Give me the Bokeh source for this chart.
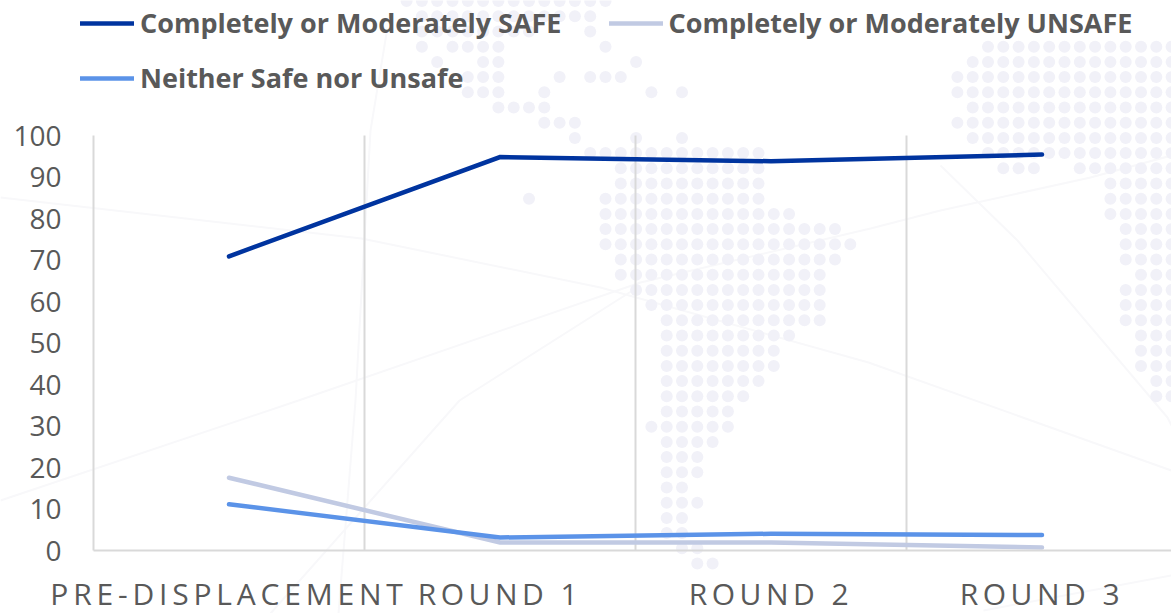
from bokeh.plotting import figure, curdoc
from bokeh.embed import file_html
from bokeh.resources import INLINE
from bokeh.models import (FixedTicker, Legend, LegendItem, Range1d, CustomJS)
from bokeh.events import DocumentReady

categories = ["PRE-DISPLACEMENT", "ROUND 1", "ROUND 2", "ROUND 3"]
safe = [70.9, 94.8, 93.8, 95.4]
unsafe = [17.6, 2.0, 2.0, 0.8]
neither = [11.2, 3.2, 4.1, 3.8]
y_ticks = list(range(0, 101, 10))
dividers = [1, 2, 3]

# faint backdrop: dotted world map, (row, first column, last column)
map_rows = [
    (-12,-13,0),(-11,-12,-1),(-10,-12,-5),(-10,-1,-1),(-9,-12,-12),(-9,-10,-7),(-9,0,0),
    (-8,-11,-11),(-8,-8,-7),(-8,2,2),(-7,-9,-7),(-7,-3,-3),(-7,-1,1),(-6,-9,-7),(-6,-4,-4),
    (-6,3,3),(-6,5,5),(-5,-7,-4),(-4,-4,-2),(-3,-2,-2),(-3,2,2),(-3,5,5),(-2,-1,10),(-1,1,10),
    (0,1,10),(1,0,10),(1,-5,-5),(2,0,12),(3,0,15),(4,0,16),(5,1,15),(6,1,14),(7,2,14),(8,3,14),
    (9,4,14),(10,4,12),(11,4,11),(12,4,11),(13,4,10),(14,4,9),(15,4,8),(16,3,8),(17,4,7),
    (18,4,6),(19,4,6),(20,4,5),(21,4,6),(22,4,5),(23,4,5),(24,5,6),(25,6,7),
    (-9,25,37),(-8,24,37),(-7,23,37),(-6,23,37),(-5,24,37),(-4,23,37),(-3,24,37),(-2,25,37),
    (-1,26,28),(-1,31,37),(0,33,37),(1,33,37),(2,33,37),(3,34,37),(4,34,37),(5,34,37),(6,35,37),
    (7,34,37),(8,34,37),(9,34,37),(10,35,37),(11,35,37),(12,35,37),(13,36,37),(14,36,37),
]
map_lines = [
    [(0,197),(361,238),(600,287),(868,362),(1171,470)],
    [(0,500),(298,400),(640,282),(870,228),(940,210),(1090,177),(1171,155)],
    [(270,613),(459,400),(640,285)],
    [(338,613),(355,400),(370,130),(386,33)],
    [(940,165),(1017,240),(1167,417),(1171,425)],
    [(983,610),(1171,575)],
]

TEXT = "#595959"
GRID = "#D9D9D9"
FONT = "Open Sans"

W, H, X0, Y0, CAT_W, UNIT_H = 1171, 613, 93, 550.3, 271, 4.153

p = figure(width=W, height=H, output_backend="svg", toolbar_location=None,
           x_range=Range1d(-X0 / CAT_W, (W - X0) / CAT_W),
           y_range=Range1d((Y0 - H) / UNIT_H, Y0 / UNIT_H),
           min_border=0, outline_line_color=None,
           background_fill_alpha=0, border_fill_alpha=0)
p.extra_x_ranges = {"px": Range1d(0, W)}
p.extra_y_ranges = {"px": Range1d(H, 0)}

mx = [605 + 15.3 * c for r, a, b in map_rows for c in range(a, b + 1)]
my = [183 + 15.2 * r for r, a, b in map_rows for c in range(a, b + 1)]
for line in map_lines:
    p.line([q[0] for q in line], [q[1] for q in line], x_range_name="px", y_range_name="px",
           line_color="#F8F8FA", line_width=2, level="image")
p.scatter(mx, my, size=12, marker="circle", x_range_name="px", y_range_name="px",
          fill_color="#F1F1F8", line_color=None, level="image")

p.segment(dividers, [0] * len(dividers), dividers, [100] * len(dividers),
          line_color=GRID, line_width=2, level="underlay")

x = [0.5, 1.5, 2.5, 3.5]
r_safe = p.line(x, safe, line_color="#00349F", line_width=4.5, line_cap="round", line_join="miter")
r_unsafe = p.line(x, unsafe, line_color="#C1CAE3", line_width=4.5, line_cap="round", line_join="miter")
r_neither = p.line(x, neither, line_color="#5B93E8", line_width=4.5, line_cap="round", line_join="miter")

xa = p.xaxis[0]
xa.fixed_location = 0
xa.bounds = (0, (W - X0) / CAT_W)
xa.ticker = FixedTicker(ticks=x)
xa.major_label_overrides = dict(zip(x, categories))
xa.major_label_text_font = FONT
xa.major_label_text_font_size = "30px"
xa.major_label_text_color = TEXT
xa.major_label_standoff = 16
xa.major_tick_line_color = None
xa.minor_tick_line_color = None
xa.axis_line_color = GRID
xa.axis_line_width = 2

ya = p.yaxis[0]
ya.fixed_location = 0
ya.bounds = (0, 100)
ya.ticker = FixedTicker(ticks=y_ticks)
ya.major_label_text_font = FONT
ya.major_label_text_font_size = "28px"
ya.major_label_text_color = TEXT
ya.major_label_standoff = 26
ya.major_tick_line_color = None
ya.minor_tick_line_color = None
ya.axis_line_color = GRID
ya.axis_line_width = 2

p.xgrid.grid_line_color = None
p.ygrid.grid_line_color = None


def make_legend(items, loc):
    lg = Legend(items=items, location=loc, orientation="horizontal", spacing=47, padding=0, margin=0,
                glyph_width=54, glyph_height=30, label_standoff=6, label_height=30,
                label_text_font=FONT, label_text_font_style="bold", label_text_font_size="27px",
                label_text_color=TEXT, background_fill_alpha=0, border_line_color=None)
    p.add_layout(lg, "center")


make_legend([LegendItem(label="Completely or Moderately SAFE", renderers=[r_safe]),
             LegendItem(label="Completely or Moderately UNSAFE", renderers=[r_unsafe])], (80, 572))
make_legend([LegendItem(label="Neither Safe nor Unsafe", renderers=[r_neither])], (80, 517))

doc = curdoc()
doc.add_root(p)
doc.js_on_event(DocumentReady, CustomJS(args=dict(labels=categories), code="""
function fix(c){
  if(c.__done) return; c.__done=true;
  const before=c.getComputedTextLength();
  c.style.letterSpacing=(c.textContent==='PRE-DISPLACEMENT'?4.8:4.5)+'px';
  const after=c.getComputedTextLength();
  c.setAttribute('x',parseFloat(c.getAttribute('x'))-(after-before)/2);
}
function walk(n){
  if(n.shadowRoot) walk(n.shadowRoot);
  for(const c of n.children||[]){
    if(c.tagName==='text' && labels.includes(c.textContent)) fix(c);
    walk(c);
  }
}
const go=()=>walk(document.body);
go(); setTimeout(go,100); setTimeout(go,500);
"""))

open("out.html", "w").write(file_html(p, INLINE))
